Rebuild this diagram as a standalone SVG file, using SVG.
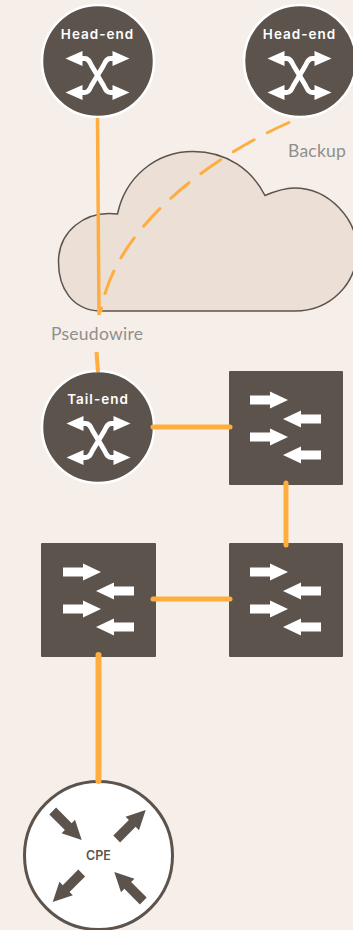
<svg xmlns="http://www.w3.org/2000/svg" width="353" height="930" viewBox="0 0 353 930">
<style>
.dev{fill:#5d534d;stroke:#fff;stroke-width:2.5}
.sq{fill:#5d534d}
.w{fill:#fff}
.cur{fill:none;stroke:#fff;stroke-width:4.800}
.t{font-family:Inter,"Liberation Sans",sans-serif;font-size:13.5px;font-weight:600;letter-spacing:1px;fill:#fff;text-anchor:middle}
.lab{font-family:Lato,"Liberation Sans",sans-serif;font-size:17.5px;letter-spacing:.25px;fill:#908f8d}
.link{fill:none;stroke:#ffad3f;stroke-linecap:round}
</style>
<defs>
<g id="xs">
<path class="cur" d="M-20-17H-13C-9-17-8-14-6-10L6 10C8 14 9 17 13 17H20"/>
<path class="cur" d="M20-17H13C9-17 8-14 6-10L-6 10C-8 14-9 17-13 17H-20"/>
<path class="w" d="M-32-17-15-24.500V-9.500ZM32-17 15-24.500V-9.500ZM-32 17-15 9.500V24.500ZM32 17 15 9.500V24.500Z"/>
</g>
<path id="ar" d="M-38-4.400H-18V-8.500L0 0-18 8.500V4.400H-38Z"/>
<path id="ar2" d="M-41-4.800H-19V-9.500L0 0-19 9.500V4.800H-41Z"/>
<g id="arrows">
<use href="#ar" class="w" transform="translate(59 29)"/>
<use href="#ar" class="w" transform="translate(54 48) rotate(180)"/>
<use href="#ar" class="w" transform="translate(59 66)"/>
<use href="#ar" class="w" transform="translate(54 84) rotate(180)"/>
</g>
</defs>
<rect width="353" height="930" fill="#f6eee8"/>
<g id="cloud"><path d="M100 311C72 310 58.500 288 58.500 262C58.500 232 84 210 117.500 214C125 178 155 151.500 193 151.500C227 151.500 252 170 265 195.500C278 190 286 188 294 188C330 188 357 220 357 250C357 284 330 311 295 311Z" fill="#ecdfd6" stroke="#5d534d" stroke-width="1.500"/></g>
<g id="headend1"><circle class="dev" cx="98" cy="61" r="56"/><text class="t" x="97.500" y="38.500">Head-end</text><use href="#xs" transform="translate(97.500 75.500)"/></g>
<g id="headend2"><circle class="dev" cx="300" cy="61" r="56"/><text class="t" x="299.500" y="38.500">Head-end</text><use href="#xs" transform="translate(299.500 75.500)"/></g>
<g id="tailend"><circle class="dev" cx="98" cy="427" r="56"/><text class="t" x="98" y="404">Tail-end</text><use href="#xs" transform="translate(98.500 440.500)"/></g>
<g id="sw1"><rect class="sq" x="229" y="371" width="114" height="114" rx="1"/><use href="#arrows" transform="translate(229 371)"/></g>
<g id="sw2"><rect class="sq" x="229" y="543" width="114" height="114" rx="1"/><use href="#arrows" transform="translate(229 543)"/></g>
<g id="sw3"><rect class="sq" x="41" y="543" width="115" height="114" rx="1"/><use href="#arrows" transform="translate(42 543)"/></g>
<g id="cpe"><circle cx="98.500" cy="855.500" r="74" fill="#fff" stroke="#5d534d" stroke-width="3"/>
<use href="#ar2" fill="#5d534d" transform="translate(81.700 840) rotate(45)"/>
<use href="#ar2" fill="#5d534d" transform="translate(145.700 810) rotate(-45)"/>
<use href="#ar2" fill="#5d534d" transform="translate(52.700 902) rotate(135)"/>
<use href="#ar2" fill="#5d534d" transform="translate(114.300 872) rotate(-135)"/>
<text x="98.500" y="860" font-family="Inter,'Liberation Sans',sans-serif" font-size="12.500" font-weight="600" fill="#5d534d" text-anchor="middle">CPE</text></g>
<g id="connectors">
<path class="link" style="stroke-linecap:butt" stroke-width="3.500" d="M97.500 118 99 315"/>
<path class="link" style="stroke-linecap:butt" stroke-width="4" d="M96.500 352 98 372"/>
<path class="link" stroke-width="3" stroke-dasharray="24 15" d="M289 122.500C215 155 115 225 101 311"/>
<path class="link" stroke-width="5" d="M153 427H230"/>
<path class="link" stroke-width="5" d="M286 483V545"/>
<path class="link" stroke-width="5" d="M153 599H230"/>
<path class="link" stroke-width="6" d="M98.500 655V781"/>
</g>
<text class="lab" x="51" y="340">Pseudowire</text>
<text class="lab" x="288" y="157">Backup</text>
</svg>
